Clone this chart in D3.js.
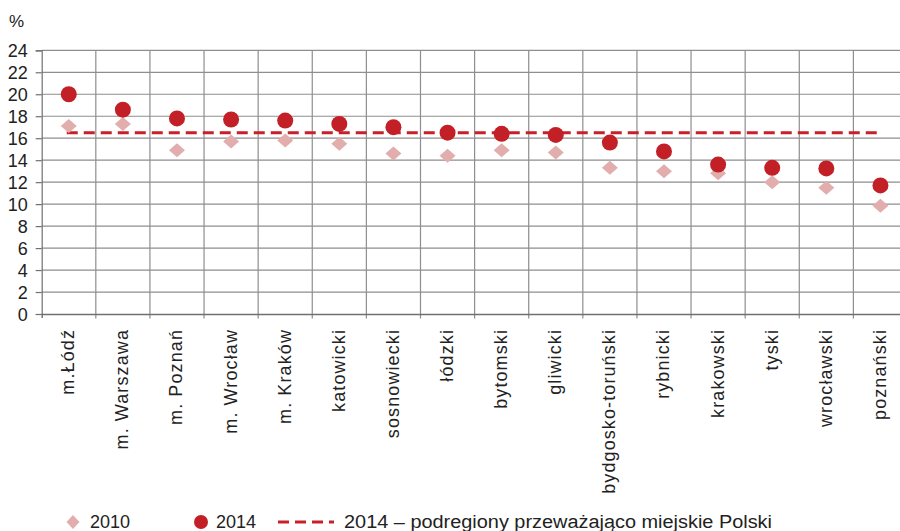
<!DOCTYPE html>
<html><head><meta charset="utf-8">
<script src="https://cdn.jsdelivr.net/npm/d3@7"></script>
<style>
body{margin:0;background:#fff;}
svg{display:block;font-family:"Liberation Sans",Arial,sans-serif;}
</style></head>
<body><svg id="c" width="900" height="531"></svg>
<script>
const categories = ["m.Łódź","m. Warszawa","m. Poznań","m. Wrocław","m. Kraków","katowicki","sosnowiecki","łódzki","bytomski","gliwicki","bydgosko-toruński","rybnicki","krakowski","tyski","wrocławski","poznański"];
const values2010 = [17.1,17.3,14.9,15.7,15.8,15.5,14.6,14.4,14.9,14.7,13.3,13.0,12.8,12.0,11.5,9.85];
const values2014 = [20.0,18.6,17.8,17.7,17.6,17.3,17.0,16.5,16.4,16.3,15.6,14.8,13.6,13.3,13.25,11.7];
const reference2014 = 16.5;
const yTicks = [0,2,4,6,8,10,12,14,16,18,20,22,24];
const legendLabels = ["2010","2014","2014 – podregiony  przeważająco miejskie Polski"];

const svg = d3.select("#c");
const x = d3.scaleBand().domain(categories).range([41.7, 907.5]).padding(0);
const y = d3.scaleLinear().domain([0,24]).range([314,50.3]);
const grid = "#8e8e8e";

// horizontal grid
svg.append("g").selectAll("line").data(yTicks.filter(d=>d>0)).join("line")
  .attr("x1",41.7).attr("x2",907.5).attr("y1",d=>y(d)).attr("y2",d=>y(d))
  .attr("stroke",grid).attr("stroke-width",1.2);
// vertical grid (category boundaries) incl. tick below axis
const bounds = categories.map(c=>x(c)).slice(1);
svg.append("g").selectAll("line").data(bounds).join("line")
  .attr("x1",d=>d).attr("x2",d=>d).attr("y1",y(24)).attr("y2",318.5)
  .attr("stroke",grid).attr("stroke-width",1.2);
// y axis
const yAxis = svg.append("g").attr("transform","translate(41.7,0)")
  .call(d3.axisLeft(y).tickValues(yTicks).tickSize(6).tickPadding(8).tickFormat(d3.format("d")));
yAxis.select(".domain").attr("stroke","#707070").attr("stroke-width",1.2);
yAxis.selectAll(".tick line").attr("stroke","#707070").attr("stroke-width",1.2);
yAxis.selectAll("text").attr("font-size",18).attr("fill","#222").attr("font-family","Liberation Sans, Arial, sans-serif").attr("x",-14).attr("dy","0.36em");
// x axis baseline + labels
const xAxis = svg.append("g").attr("transform","translate(0,314)")
  .call(d3.axisBottom(x).tickSize(4).tickSizeOuter(4));
xAxis.select(".domain").attr("stroke","#707070").attr("stroke-width",1.4);
xAxis.selectAll(".tick line").remove();
xAxis.selectAll(".tick text")
  .attr("transform","rotate(-90)")
  .attr("text-anchor","end")
  .attr("x",-15).attr("y",0).attr("dy","0.3em")
  .attr("font-size",18).attr("letter-spacing","1.1px")
  .attr("fill","#222").attr("font-family","Liberation Sans, Arial, sans-serif");

svg.append("text").attr("x",9).attr("y",27).attr("font-size",17).attr("fill","#222").text("%");

// reference dashed line
const cx = c => x(c) + x.bandwidth()/2;
svg.append("line")
  .attr("x1",cx(categories[0])-2).attr("x2",cx(categories[categories.length-1]))
  .attr("y1",y(reference2014)).attr("y2",y(reference2014))
  .attr("stroke","#c8202a").attr("stroke-width",3).attr("stroke-dasharray","11,6");

const diamond = (hx,hy) => `M0,${-hy}L${hx},0L0,${hy}L${-hx},0Z`;
svg.append("g").selectAll("path").data(categories).join("path")
  .attr("d",diamond(8,7))
  .attr("transform",(c,i)=>`translate(${cx(c)},${y(values2010[i])})`)
  .attr("fill","#e2adad");
svg.append("g").selectAll("circle").data(categories).join("circle")
  .attr("cx",c=>cx(c)).attr("cy",(c,i)=>y(values2014[i])).attr("r",8)
  .attr("fill","#c31f26");

// legend
const lg = svg.append("g");
const ly = 522;
lg.append("path").attr("d",diamond(6.5,7)).attr("transform",`translate(73,${ly})`).attr("fill","#e2adad");
lg.append("text").attr("x",90).attr("y",ly).attr("dy","0.36em").attr("font-size",18).attr("fill","#222").text(legendLabels[0]);
lg.append("circle").attr("cx",201).attr("cy",ly).attr("r",7).attr("fill","#c31f26");
lg.append("text").attr("x",216).attr("y",ly).attr("dy","0.36em").attr("font-size",18).attr("fill","#222").text(legendLabels[1]);
lg.append("line").attr("x1",278).attr("x2",334).attr("y1",ly).attr("y2",ly).attr("stroke","#c8202a").attr("stroke-width",3).attr("stroke-dasharray","11,6");
lg.append("text").attr("x",344).attr("y",ly).attr("dy","0.36em").attr("font-size",18).attr("fill","#222")
  .attr("textLength",428).attr("lengthAdjust","spacingAndGlyphs").text(legendLabels[2]);
</script></body></html>
